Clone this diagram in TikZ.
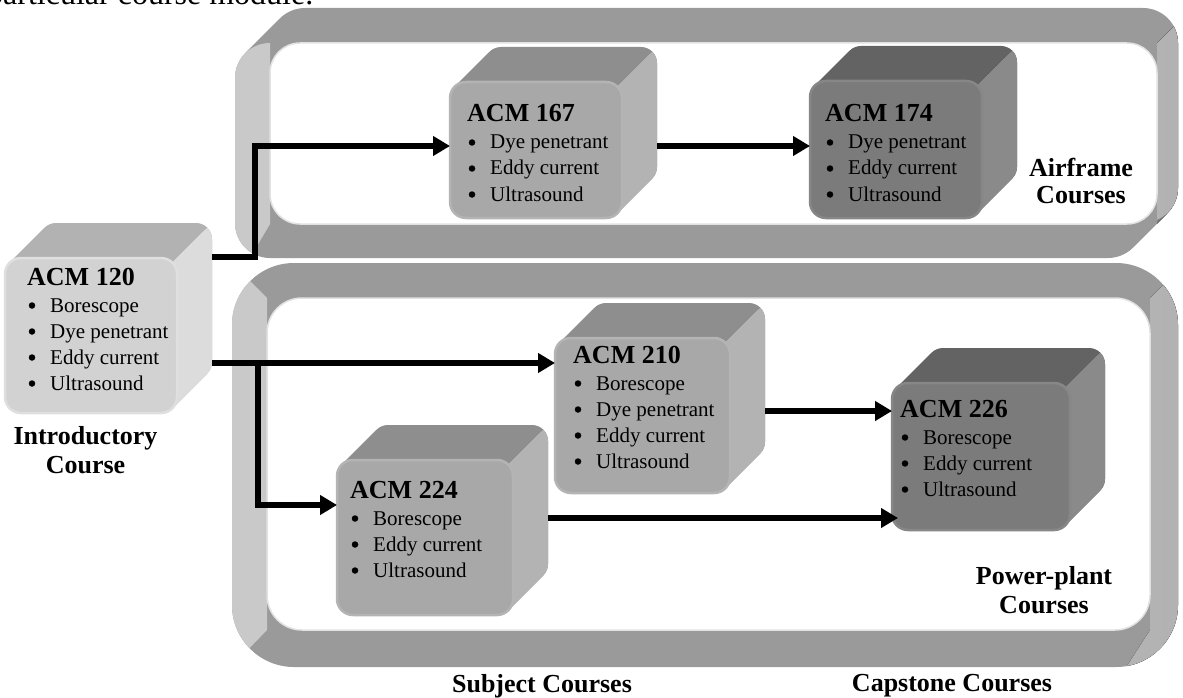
\documentclass[tikz,border=0pt]{standalone}
\usepackage{fontspec}
\setmainfont{Liberation Serif}
\usetikzlibrary{arrows.meta}

% panel colours
\definecolor{band}{HTML}{9A9A9A}
\definecolor{wallL}{HTML}{C9C9C9}
\definecolor{wallRin}{HTML}{CFCFCF}
\definecolor{wallRout}{HTML}{B2B2B2}
\definecolor{innerrim}{HTML}{E2E2E2}
% cube colours: top face, right face, front face, front rim
\definecolor{lighttop}{HTML}{B2B2B2}
\definecolor{lightside}{HTML}{DCDCDC}
\definecolor{lightfront}{HTML}{D2D2D2}
\definecolor{lightrim}{HTML}{DFDFDF}
\definecolor{midtop}{HTML}{8E8E8E}
\definecolor{midside}{HTML}{B3B3B3}
\definecolor{midfront}{HTML}{A8A8A8}
\definecolor{midrim}{HTML}{B4B4B4}
\definecolor{darktop}{HTML}{636363}
\definecolor{darkside}{HTML}{8A8A8A}
\definecolor{darkfront}{HTML}{7B7B7B}
\definecolor{darkrim}{HTML}{878787}

\tikzset{
  face/.style={rectangle, inner sep=0pt, outer sep=0pt, draw=none},
  ttl/.style={anchor=base west, inner sep=0pt, font={\fontsize{26}{30}\selectfont\bfseries}},
  itm/.style={anchor=base west, inner sep=0pt, font={\fontsize{21}{25}\selectfont}},
  blt/.style={circle, fill=black, inner sep=0pt, minimum size=6.5pt},
  caption/.style={anchor=base, inner sep=0pt, font={\fontsize{26}{30}\selectfont\bfseries}},
  lead/.style={anchor=base west, inner sep=0pt, font={\fontsize{32}{36}\selectfont}},
  conn/.style={line width=5.5pt, line join=miter, -{Triangle[length=17pt,width=19pt]}},
}

% a course block drawn as a rounded cube: #1 name, #2..#5 front face corners, #6 shade family
\newcommand\coursecube[6]{%
  \foreach \k in {35,34,...,1}
    \fill[#6top, rounded corners=16] ({#2+\k},{#3-\k}) rectangle ({#4+\k},{#5-\k});
  \begin{scope}
    \clip ({#4-54},{#3+54}) -- ({#4+46},{#3-46}) -- ({#4+80},{#3-46})
          -- ({#4+80},{#5+20}) -- ({#4-54},{#5+20}) -- cycle;
    \foreach \k in {35,34,...,1}
      \fill[#6side, rounded corners=16] ({#2+\k},{#3-\k}) rectangle ({#4+\k},{#5-\k});
  \end{scope}
  \fill[#6front, draw=#6rim, line width=2.5pt, rounded corners=16] (#2,#3) rectangle (#4,#5);
  \node[face, minimum width={#4-#2}, minimum height={#5-#3}] (#1) at ({(#2+#4)/2},{(#3+#5)/2}) {};
  \node[face, minimum width={#4-#2}, minimum height={#5-#3}] (#1b) at ({(#2+#4)/2+35},{(#3+#5)/2-35}) {};
}

% title and bullet list of a course block: #1 name, #2 title, #3 x, #4 title baseline, #5 entries
\newcommand\courselabel[5]{%
  \node[ttl] (#1t) at (#3,#4) {#2};
  \foreach \entry [count=\i] in {#5} {
    \node[blt] (#1p\i) at ({#3+5},{#4+27+26*(\i-1)-6.5}) {};
    \node[itm] (#1e\i) at ({#3+23},{#4+27+26*(\i-1)}) {\entry};
  }
}

\begin{document}
\begin{tikzpicture}[x=1pt,y=-1pt]
\useasboundingbox (0,0) rectangle (1183,698);
\clip (0,0) rectangle (1183,698);
\fill[white] (0,0) rectangle (1183,698);

% running text line above the figure
\node[lead] (lead) at (-13,5) {particular course module.};

% ---- Airframe panel: a rounded frame extruded up and to the right
\foreach \k in {0,...,35}
  \fill[band, rounded corners=35] ({235+\k},{43-\k}) rectangle ({1143+\k},{258-\k});
\begin{scope}
  \clip (200,43) -- (270,43) -- (270,224) -- (240,275) -- (200,275) -- cycle;
  \fill[wallL, rounded corners=35] (235,43) rectangle (1143,258);
\end{scope}
\begin{scope}
  \clip (1157,43) -- (1195,5) -- (1200,5) -- (1200,300) -- (1130,300) -- (1157,224) -- cycle;
  \foreach \k in {0,...,35}
    \fill[left color=wallRin, right color=wallRout, rounded corners=35]
      ({235+\k},{43-\k}) rectangle ({1143+\k},{258-\k});
\end{scope}
\fill[white, draw=innerrim, line width=1.5pt, rounded corners=30] (270,43) rectangle (1157,224);

% ---- Power-plant panel
\fill[band, rounded corners=62] (232,263) rectangle (1178,667);
\begin{scope}
  \clip (212,243) -- (267,298) -- (267,630) -- (212,687) -- cycle;
  \fill[wallL, rounded corners=62] (232,263) rectangle (1178,667);
\end{scope}
\begin{scope}
  \clip (1150,298) -- (1200,248) -- (1200,700) -- (1105,700) -- (1150,630) -- cycle;
  \fill[left color=wallRin, right color=wallRout, rounded corners=62] (232,263) rectangle (1178,667);
\end{scope}
\fill[white, draw=innerrim, line width=1.5pt, rounded corners=35] (267,298) rectangle (1150,630);

% ---- course blocks
\coursecube{c120}{5}{258}{177}{413}{light}
\coursecube{c167}{450}{82}{622}{218}{mid}
\coursecube{c174}{810}{81}{982}{218}{dark}
\coursecube{c210}{555}{338}{730}{493}{mid}
\coursecube{c224}{337}{460}{513}{615}{mid}
\coursecube{c226}{892}{383}{1070}{530}{dark}

\courselabel{c120}{ACM 120}{27}{285}{Borescope,Dye penetrant,Eddy current,Ultrasound}
\courselabel{c167}{ACM 167}{467}{122}{Dye penetrant,Eddy current,Ultrasound}
\courselabel{c174}{ACM 174}{825}{122}{Dye penetrant,Eddy current,Ultrasound}
\courselabel{c210}{ACM 210}{573}{363}{Borescope,Dye penetrant,Eddy current,Ultrasound}
\courselabel{c224}{ACM 224}{350}{498}{Borescope,Eddy current,Ultrasound}
\courselabel{c226}{ACM 226}{900}{417}{Borescope,Eddy current,Ultrasound}

% ---- group captions
\node[caption] (intro1) at (85.5,444) {Introductory};
\node[caption] (intro2) at (85.5,473) {Course};
\node[caption] (air1) at (1081,176) {Airframe};
\node[caption] (air2) at (1081,203) {Courses};
\node[caption] (pp1) at (1044,584) {Power-plant};
\node[caption] (pp2) at (1044,613) {Courses};
\node[caption] (subj) at (542,692) {Subject Courses};
\node[caption] (cap) at (952,691) {Capstone Courses};

% ---- prerequisite connectors
\coordinate (j1) at ([yshift=43.5pt]c120b.east);
\draw[conn] (j1) -- ++(43,0) |- ([yshift=4pt]c167.west);
\draw[conn] ([yshift=3.5pt]c174.west -| c167b.east) -- ([yshift=3.5pt]c174.west);
\coordinate (j2) at ([yshift=52.5pt]c210.west -| c120b.east);
\draw[conn] (j2) -- ([yshift=52.5pt]c210.west);
\draw[conn] ([xshift=46pt]j2) |- ([yshift=32.5pt]c224.west);
\draw[conn] ([yshift=45.5pt]c226.west -| c210b.east) -- ([yshift=45.5pt]c226.west);
\draw[conn] ([yshift=-61.5pt]c226.west -| c224b.east) -- ([yshift=-61.5pt,xshift=6pt]c226.west);
\end{tikzpicture}
\end{document}
